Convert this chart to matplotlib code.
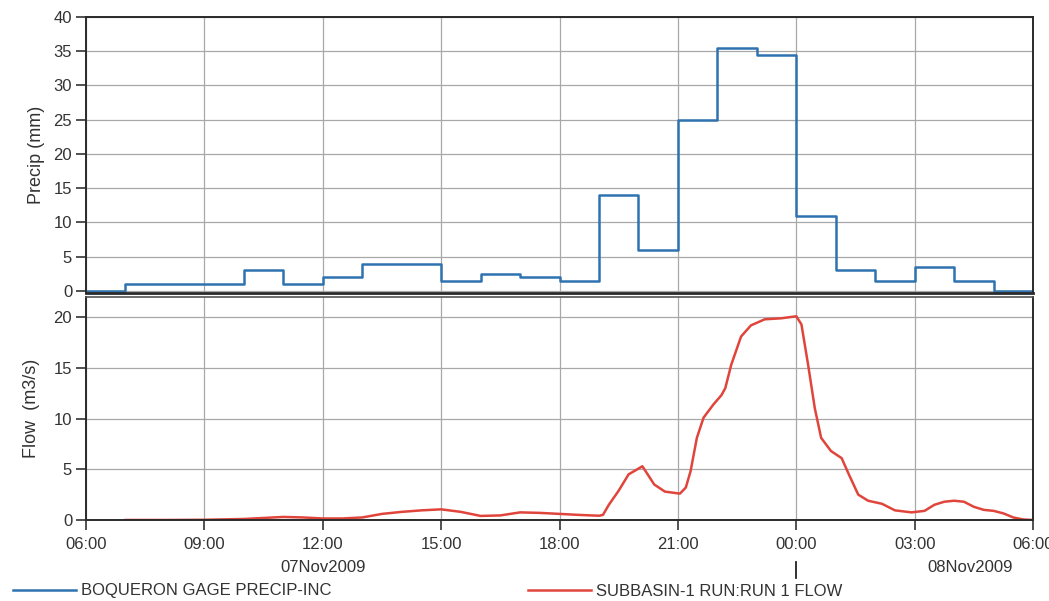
import matplotlib
matplotlib.use('Agg')
import matplotlib.pyplot as plt
import matplotlib.transforms as mtransforms
import numpy as np

plt.rcParams['font.family'] = ['Liberation Sans', 'DejaVu Sans']

# hours after 07Nov2009 06:00
tick_hours = [0, 3, 6, 9, 12, 15, 18, 21, 24]
tick_labels = ['06:00', '09:00', '12:00', '15:00', '18:00', '21:00',
               '00:00', '03:00', '06:00']

# hourly incremental precipitation (mm), interval start 06:00 ... 05:00
precip_start = list(range(24))
precip_mm = [0, 1, 1, 1, 3, 1, 2, 4, 4, 1.5, 2.5, 2, 1.5, 14, 6, 25,
             35.5, 34.5, 11, 3, 1.5, 3.5, 1.5, 0]

# simulated outflow (m3/s), read off the hydrograph
flow_hours = [1, 2, 3, 4, 4.5, 5, 5.5, 6, 6.5, 7,
              7.5, 8, 8.5, 9, 9.5, 10, 10.5, 11, 11.5, 12,
              12.5, 13, 13.1, 13.25, 13.5, 13.75, 14.1, 14.4, 14.67, 15.05,
              15.2, 15.32, 15.48, 15.65, 15.9, 16.1, 16.2, 16.35, 16.6, 16.85,
              17.2, 17.62, 18.0, 18.13, 18.3, 18.47, 18.63, 18.88, 19.15, 19.32,
              19.57, 19.82, 20.17, 20.5, 20.92, 21.25, 21.5, 21.75, 22, 22.25,
              22.5, 22.75, 23, 23.25, 23.5, 23.75, 24]
flow_cms = [0.0, 0.0, 0.02, 0.1, 0.2, 0.3, 0.25, 0.15, 0.15, 0.25,
            0.6, 0.8, 0.95, 1.05, 0.8, 0.4, 0.45, 0.75, 0.7, 0.6,
            0.5, 0.42, 0.5, 1.5, 2.9, 4.5, 5.3, 3.5, 2.8, 2.6,
            3.2, 4.8, 8.1, 10.1, 11.4, 12.3, 13.0, 15.3, 18.1, 19.2,
            19.8, 19.9, 20.1, 19.3, 15.3, 11.0, 8.1, 6.8, 6.1, 4.6,
            2.5, 1.9, 1.6, 0.95, 0.75, 0.9, 1.5, 1.8, 1.9, 1.8,
            1.3, 1.0, 0.9, 0.65, 0.25, 0.05, 0.0]

precip_name = 'BOQUERON GAGE PRECIP-INC'
flow_name = 'SUBBASIN-1 RUN:RUN 1 FLOW'

blue = '#2f72b0'
red = '#e0453c'
grid_c = '#a8a8a8'
text_c = '#333333'
fs = 12


def style_axes(ax):
    ax.set_xlim(0, 24)
    ax.set_xticks(tick_hours)
    ax.grid(True, color=grid_c, linewidth=0.9)
    ax.set_axisbelow(True)
    for sp in ax.spines.values():
        sp.set_color('#2a2a2a')
        sp.set_linewidth(1.4)
    ax.tick_params(axis='y', direction='out', length=7, width=1.2,
                   labelsize=fs, colors=text_c, pad=3)


fig = plt.figure(figsize=(10.49, 6.01), dpi=100)
ax1 = fig.add_axes([0.082, 0.5125, 0.9028, 0.4592])
ax2 = fig.add_axes([0.082, 0.1348, 0.9028, 0.3710])

# precipitation panel
edges = precip_start + [24]
lp, = ax1.step(edges, precip_mm + [precip_mm[-1]], where='post',
               color=blue, linewidth=1.8)
style_axes(ax1)
ax1.set_ylim(-0.3, 40)
ax1.set_yticks(np.arange(0, 41, 5))
ax1.tick_params(axis='x', length=0, labelbottom=False)
ax1.spines['bottom'].set_linewidth(2.0)
ax1.set_ylabel('Precip (mm)', fontsize=13, color=text_c, labelpad=6)

# flow panel
lf, = ax2.plot(flow_hours, flow_cms, color=red, linewidth=1.8)
style_axes(ax2)
ax2.set_ylim(0, 22)
ax2.set_yticks([0, 5, 10, 15, 20])
ax2.set_xticklabels(tick_labels)
ax2.tick_params(axis='x', direction='out', length=7, width=1.2,
                labelsize=fs, colors=text_c, pad=5)
ax2.spines['top'].set_linewidth(1.2)
ax2.spines['top'].set_color('#555555')
ax2.set_ylabel('Flow  (m3/s)', fontsize=13, color=text_c, labelpad=10)

# day labels and day separator
trans = mtransforms.blended_transform_factory(ax2.transData, ax2.transAxes)
ax2.text(6, -0.215, '07Nov2009', transform=trans, ha='center', va='center',
         fontsize=fs, color=text_c)
ax2.text(22.4, -0.215, '08Nov2009', transform=trans, ha='center',
         va='center', fontsize=fs, color=text_c)
ax2.plot([18, 18], [-0.19, -0.26], transform=trans, color='#222222',
         linewidth=1.3, clip_on=False)

# legend entries along the bottom
fig.legend([lp], [precip_name], loc='center left',
           bbox_to_anchor=(13 / 1049, 1 - 591 / 601), frameon=False,
           borderpad=0, borderaxespad=0, handlelength=3.8,
           handletextpad=0.3, fontsize=fs, labelcolor=text_c)
fig.legend([lf], [flow_name], loc='center left',
           bbox_to_anchor=(528 / 1049, 1 - 591 / 601), frameon=False,
           borderpad=0, borderaxespad=0, handlelength=3.8,
           handletextpad=0.3, fontsize=fs, labelcolor=text_c)

plt.savefig('out.png', dpi=100)
